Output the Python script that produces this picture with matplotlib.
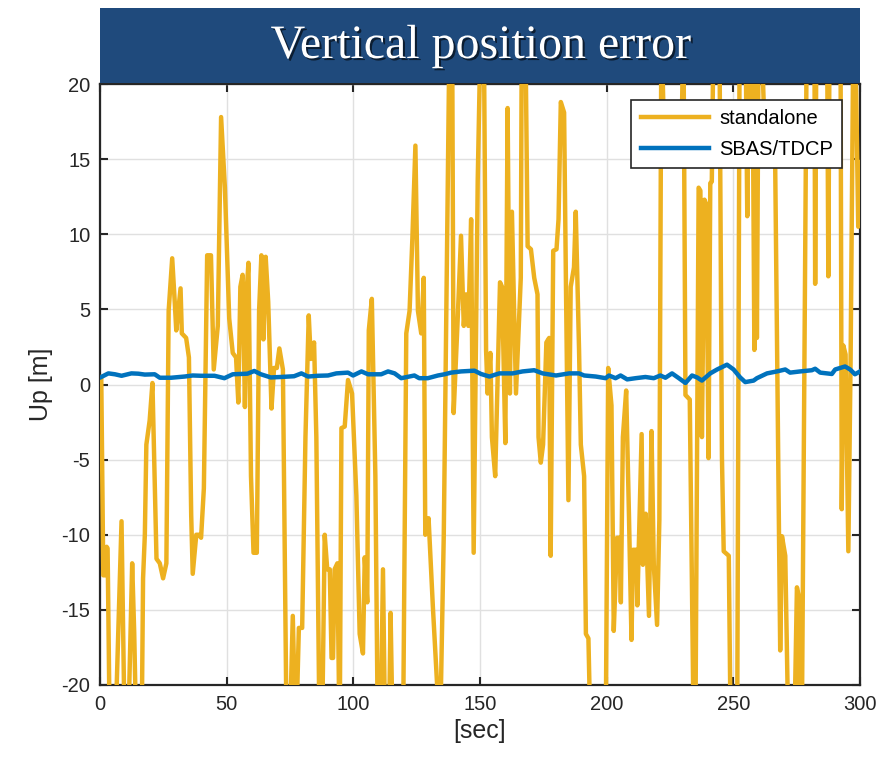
import matplotlib
matplotlib.use("Agg")
import matplotlib.pyplot as plt
import matplotlib.patheffects as pe
from matplotlib.patches import Rectangle

# standalone receiver: up error [m] vs time [sec]
# (values beyond +/-20 are outside the plotted range and get clipped)
t_std = [0.5, 1.3, 2.0, 2.6, 3.0, 3.9, 5.9, 8.5, 9.8, 11.0, 12.7, 13.5, 14.4, 16.4,
         17.0, 17.7, 18.3, 19.6, 20.7, 22.3, 23.6, 24.9, 26.2, 27.1, 28.5, 29.5,
         30.1, 31.8, 32.3, 34.0, 35.1, 36.0, 36.6, 38.0, 39.0, 39.9, 41.0, 42.3,
         43.8, 44.9, 46.5, 47.8, 49.3, 51.0, 52.4, 53.7, 54.6, 55.4, 56.3, 57.2,
         58.0, 58.6, 59.6, 60.6, 61.9, 62.8, 63.7, 64.5, 65.4, 66.4, 67.7, 68.7,
         69.8, 70.8, 72.2, 73.7, 74.8, 76.1, 77.3,
         78.5, 79.8, 81.1, 82.4, 83.2, 84.5, 85.4, 86.7, 87.6, 88.7, 89.7, 90.7,
         91.4, 92.0, 92.6, 93.7, 94.6, 95.3, 96.6, 97.9, 99.5, 101.2, 102.5,
         103.8, 104.5, 105.5, 106.1, 107.3, 108.7, 109.7, 110.7, 111.7, 112.6,
         114.0, 114.7, 115.6, 119.6, 120.9, 122.2, 123.3, 124.5, 125.5, 126.8,
         127.8, 128.4, 129.7, 131.4, 133.4, 134.5, 135.7, 138.0, 139.0, 139.6,
         141.2, 142.5, 143.6, 144.5, 145.4, 146.5, 147.5, 149.1, 150.3,
         151.5, 152.4, 153.0, 154.1, 154.7, 156.0, 157.9, 158.7, 160.0, 160.9,
         161.8, 162.6, 164.2, 166.1, 166.5, 167.9, 168.8, 170.1, 171.4, 172.7,
         173.1, 174.0, 174.9, 176.2, 177.3, 177.9, 178.9, 180.2, 181.0, 181.9,
         183.2, 183.9, 184.9, 185.8, 187.1, 187.8, 189.1, 189.8, 191.1, 191.8,
         192.8, 193.7, 199.6, 200.6, 201.9, 202.8, 204.1, 205.1, 205.6, 206.4,
         207.7, 208.8, 209.8, 210.4, 211.7, 212.1, 213.8, 214.3, 215.4, 216.7,
         217.7, 218.6, 219.9, 220.8, 221.6,
         222.6, 229.6, 230.3, 231.1, 232.8, 234.4, 235.0, 236.3, 237.0, 237.6,
         238.6, 239.3, 240.2, 240.9, 241.5, 242.2, 244.5, 245.5, 246.2, 248.2,
         249.0, 251.5, 252.5, 254.8, 255.5, 256.2, 257.5, 258.3, 258.8, 259.3,
         260.0, 261.0, 262.5, 265.5, 266.5, 268.5, 269.2, 270.5, 271.8, 274.0,
         275.1, 275.7, 276.4, 277.0, 279.0, 282.0, 282.3, 282.8, 287.0, 287.5,
         288.0, 292.3, 292.8, 293.4, 294.3, 295.4, 296.3, 297.4, 298.5, 299.3,
         300.0]
up_std = [0.5, -12.7, -12.7, -10.8, -10.9, -24, -24, -9.1, -24, -24, -11.9, -16.5,
          -24, -24, -12.9, -10.0, -4.0, -2.4, 0.1, -11.6, -11.9, -12.9, -11.9, 4.9,
          8.4, 5.5, 3.6, 6.4, 3.4, 3.1, 1.8, -8.7, -12.6, -10.0, -10.0, -10.2,
          -6.9, 8.6, 8.6, 1.0, 3.9, 17.8, 13.1, 4.4, 2.1, 1.8, -1.2, 6.5, 7.3,
          -1.5, 6.5, 8.1, -6.1, -11.2, -11.2, 4.9, 8.6, 3.0, 8.5, 5.5, -1.6, 1.1,
          1.1, 2.4, 1.0, -24, -24, -15.4, -24,
          -16.2, -16.2, -3.5, 4.6, 1.7, 2.8, -3.5, -24, -24, -10.0, -12.3, -12.3,
          -18.2, -18.2, -12.3, -11.9, -24, -2.9, -2.8, 0.3, -0.6, -7.4, -16.6,
          -17.9, -11.5, -14.5, 3.6, 5.7, -6.1, -24, -24, -12.3, -24,
          -24, -15.2, -24, -24, 3.4, 4.9, 9.7, 15.9, 4.9, 3.4,
          7.1, -10.0, -8.9, -14.8, -21, -21, -10.0, 24, 24, -1.9,
          4.4, 9.9, 3.9, 6.0, 3.9, 11.0, -11.2, 13.6, 24,
          24, 2.3, -0.6, 2.1, -3.5, -6.1, 6.8, 6.5, -3.9, 18.4,
          -0.6, 11.5, -0.6, 7.1, 24, 24, 9.2, 9.0, 7.1, 6.0,
          -3.5, -5.2, -4.0, 2.8, 3.1, -11.4, 8.9, 9.0, 11.0, 18.8,
          18.1, 7.1, -7.7, 6.5, 7.8, 11.5, 2.3, -4.0, -6.1, -16.6,
          -16.9, -24, -24, 1.1, -1.4, -16.4, -10.2, -10.2, -14.5, -3.5,
          -0.4, -8.7, -17.0, -11.0, -11.0, -14.7, -3.3, -12.0, -8.6, -15.4,
          -3.1, -12.0, -16.0, -9.0, 24,
          17, 17, 24, -0.7, -1.0, -24, -24, 13.1, 12.9, -3.5,
          12.3, 12.0, -4.9, 13.4, 13.5, 24, 24, -4.8, -11.1, -11.4,
          -24, -24, 24, 24, 11.2, 24, 24, 2.3, 24, 3.1,
          24, 24, 16, 16, 15, -17.7, -10.1, -11.4, -24, -24,
          -13.5, -14.0, -24, -24, 24, 24, 6.7, 24, 24, 7.2,
          24, 24, -8.3, 2.6, 2.0, -11.1, 1.8, 24, 19.4, 10.5,
          14.8]

# SBAS/TDCP solution
t_sbas = [0.5, 3.3, 5.9, 8.5, 12.4, 15.1, 17.7, 21.6, 23.6, 28.1, 33.4, 36.6, 39.9,
          45.2, 49.1, 52.4, 58.2, 60.9, 63.5, 67.4, 71.3, 76.6, 79.5, 82.1, 86.0,
          90.0, 93.3, 97.9, 99.9, 103.2, 105.8, 111.0, 113.7, 116.3, 118.9, 124.1,
          126.0, 129.4, 133.4, 136.0, 138.6, 142.5, 147.8, 150.4, 153.7, 157.6,
          162.9, 166.8, 171.4, 174.7, 180.0, 185.2, 189.1, 191.1, 195.7, 199.6,
          200.9, 203.5, 205.5, 208.1, 211.4, 215.3, 218.6, 221.2, 223.2, 225.8,
          228.5, 231.1, 233.7, 235.7, 237.6, 240.9, 243.6, 247.5, 250.1, 252.7,
          254.7, 258.0, 259.3, 263.3, 267.2, 270.5, 272.4, 276.4, 281.0, 282.3,
          284.3, 286.9, 288.9, 290.2, 294.1, 296.1, 298.0, 300.0]
up_sbas = [0.5, 0.74, 0.68, 0.58, 0.74, 0.72, 0.66, 0.68, 0.45, 0.45, 0.53, 0.6,
           0.58, 0.58, 0.42, 0.68, 0.72, 0.9, 0.68, 0.47, 0.5, 0.55, 0.74, 0.53,
           0.58, 0.6, 0.74, 0.79, 0.6, 0.87, 0.68, 0.68, 0.87, 0.74, 0.42, 0.6,
           0.42, 0.42, 0.6, 0.68, 0.79, 0.87, 0.92, 0.7, 0.53, 0.74,
           0.74, 0.87, 0.95, 0.74, 0.6, 0.74, 0.74, 0.6, 0.53, 0.42,
           0.6, 0.42, 0.6, 0.34, 0.42, 0.5, 0.42, 0.6, 0.45, 0.74,
           0.42, 0.1, 0.6, 0.47, 0.26, 0.74, 1.0, 1.32, 1.0, 0.47,
           0.16, 0.26, 0.42, 0.74, 0.87, 1.0, 0.79, 0.87, 0.95, 1.05,
           0.79, 0.74, 0.7, 1.0, 1.2, 1.0, 0.68, 0.87]

x_ticks = [0, 50, 100, 150, 200, 250, 300]
y_ticks = [-20, -15, -10, -5, 0, 5, 10, 15, 20]

plt.rcParams['font.family'] = ['Liberation Sans', 'DejaVu Sans']
plt.rcParams['axes.unicode_minus'] = False
W, H = 884, 757
fig = plt.figure(figsize=(W / 100, H / 100), dpi=100)
ax = fig.add_axes([100 / W, 1 - 685 / H, 760 / W, 601 / H])

ax.plot(t_std, up_std, color='#EDB120', lw=3.2, label='standalone', zorder=3)
ax.plot(t_sbas, up_sbas, color='#0072BD', lw=3.2, label='SBAS/TDCP', zorder=4)

ax.set_xlim(0, 300)
ax.set_ylim(-20, 20)
ax.set_xticks(x_ticks)
ax.set_yticks(y_ticks)
ax.grid(True, color='#E0E0E0', lw=1.0)
ax.set_axisbelow(True)
ax.tick_params(direction='in', length=6, width=1.5, top=True, right=True,
               labelsize=14.5, colors='#262626', pad=7)
for s in ax.spines.values():
    s.set_color('#262626')
    s.set_linewidth(1.6)

ax.set_xlabel('[sec]', fontsize=18, color='#262626', labelpad=4)
ax.set_ylabel('Up [m]', fontsize=18, color='#262626', labelpad=6)

leg = ax.legend(loc='upper right', bbox_to_anchor=(742 / 760, 1 - 16 / 601),
                borderaxespad=0, fontsize=14.5, handlelength=3.4,
                fancybox=False, framealpha=1, edgecolor='#262626',
                labelspacing=0.6, borderpad=0.45, handletextpad=0.5)
leg.get_frame().set_linewidth(1.2)
leg.set_zorder(10)

# title banner across the top of the plot
fig.patches.append(Rectangle((100 / W, 1 - 83 / H), 760 / W, 75 / H,
                             transform=fig.transFigure, facecolor='#1F4A7C',
                             edgecolor='none', zorder=20))
fig.text(481 / W, 1 - 46 / H, 'Vertical position error', color='white',
         family=['Liberation Serif', 'DejaVu Serif'], fontsize=34.5,
         ha='center', va='center', zorder=21,
         path_effects=[pe.withSimplePatchShadow(offset=(1.5, -1.5),
                                                shadow_rgbFace='black', alpha=0.6)])

fig.savefig('out.png', dpi=100)
